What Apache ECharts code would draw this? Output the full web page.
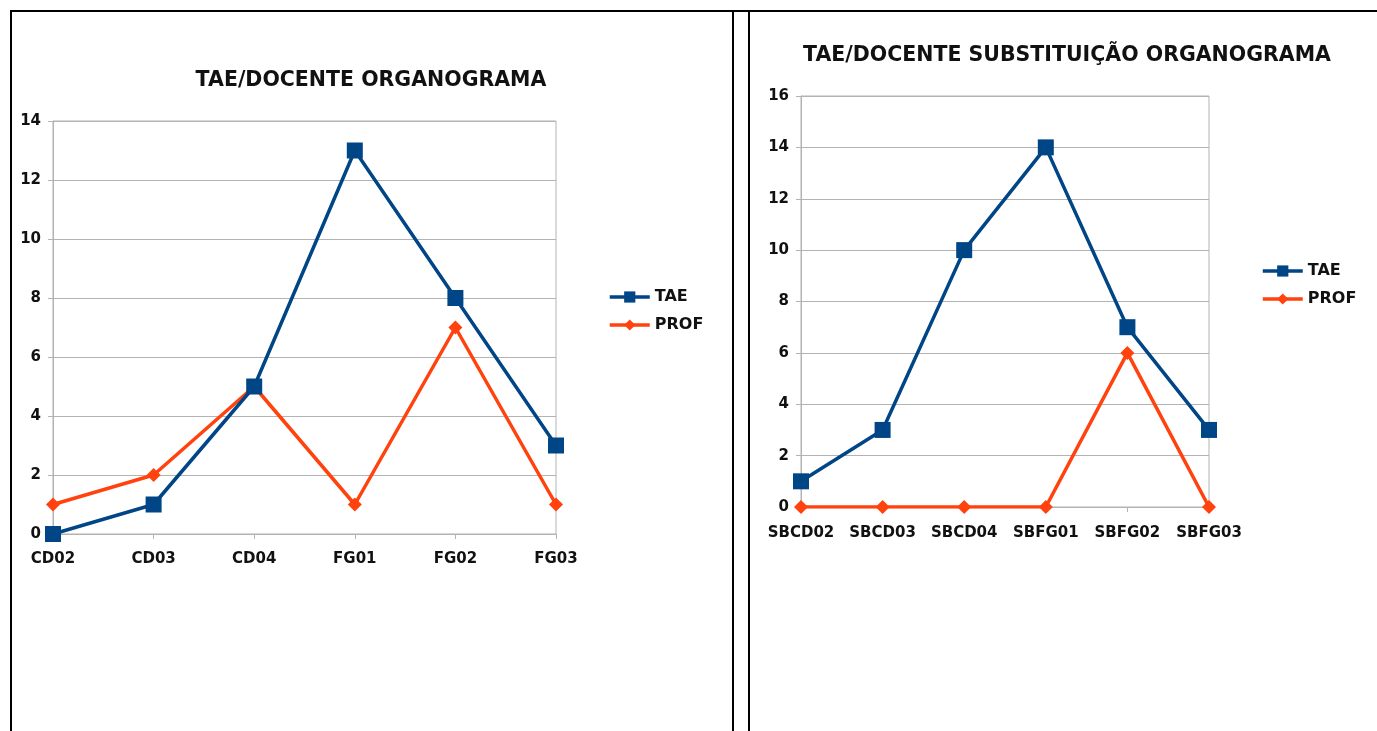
<!DOCTYPE html>
<html>
<head>
<meta charset="utf-8">
<script src="https://cdn.jsdelivr.net/npm/echarts@6/dist/echarts.min.js"></script>
<style>
  html, body { margin: 0; padding: 0; background: #fff; }
  #main { position: absolute; left: 0; top: 0; width: 1377px; height: 731px; }
  .bd { position: absolute; background: #000; }
</style>
</head>
<body>
<div id="main"></div>
<div class="bd" style="left:10px;top:10px;width:1367px;height:2px"></div>
<div class="bd" style="left:10px;top:10px;width:2px;height:721px"></div>
<div class="bd" style="left:732px;top:10px;width:2px;height:721px"></div>
<div class="bd" style="left:748px;top:10px;width:2px;height:721px"></div>
<script>
// left chart
var catsA = ["CD02", "CD03", "CD04", "FG01", "FG02", "FG03"];
var taeA = [0, 1, 5, 13, 8, 3];
var profA = [1, 2, 5, 1, 7, 1];
// right chart
var catsB = ["SBCD02", "SBCD03", "SBCD04", "SBFG01", "SBFG02", "SBFG03"];
var taeB = [1, 3, 10, 14, 7, 3];
var profB = [0, 0, 0, 0, 6, 0];

var blue = "#004586";
var orange = "#ff420e";
var gray = "#b3b3b3";
var labelFont = { color: "#111", fontWeight: "bold", fontFamily: "DejaVu Sans", fontSize: 15 };

function xAxis(idx, cats, margin) {
  return {
    type: "category",
    gridIndex: idx,
    data: cats,
    boundaryGap: false,
    axisLine: { lineStyle: { color: gray } },
    axisTick: { show: true, length: 5, lineStyle: { color: gray } },
    axisLabel: Object.assign({ margin: margin, interval: 0 }, labelFont),
    splitLine: { show: false },
  };
}
function yAxis(idx, max) {
  return {
    type: "value",
    gridIndex: idx,
    min: 0,
    max: max,
    interval: 2,
    axisLine: { show: true, lineStyle: { color: gray } },
    axisTick: { show: true, length: 5, lineStyle: { color: gray } },
    axisLabel: Object.assign({ margin: 12 }, labelFont),
    splitLine: { show: true, lineStyle: { color: gray, width: 1 } },
  };
}
function series(name, data, idx, isTae) {
  return {
    name: name,
    type: "line",
    xAxisIndex: idx,
    yAxisIndex: idx,
    data: data,
    symbol: isTae ? "rect" : "diamond",
    symbolSize: isTae ? 16 : 14,
    itemStyle: { color: isTae ? blue : orange },
    lineStyle: { color: isTae ? blue : orange, width: 3.5 },
    z: isTae ? 3 : 2,
  };
}
function legend(names, left, top) {
  return {
    data: names,
    orient: "vertical",
    left: left, top: top,
    itemWidth: 40, itemHeight: 14, itemGap: 12,
    lineStyle: { width: 3.5 },
    textStyle: Object.assign({}, labelFont, { fontSize: 16 }),
    selectedMode: false,
  };
}

var titleFont = { fontFamily: "DejaVu Sans", fontWeight: "bold", fontSize: 20.5, color: "#111" };

var myChart = echarts.init(document.getElementById("main"));
myChart.setOption({
  animation: false,
  title: [
    { text: "TAE/DOCENTE ORGANOGRAMA", left: 366, top: 65, textAlign: "center", textStyle: titleFont },
    { text: "TAE/DOCENTE SUBSTITUIÇÃO ORGANOGRAMA", left: 1062, top: 40, textAlign: "center", textStyle: titleFont },
  ],
  legend: [legend(["TAE", "PROF"], 603, 284), legend(["TAE ", "PROF "], 1256, 258)],
  grid: [
    { left: 53, top: 121, width: 503, height: 413, show: true, borderColor: gray, borderWidth: 1 },
    { left: 801, top: 96, width: 408, height: 411, show: true, borderColor: gray, borderWidth: 1 },
  ],
  xAxis: [xAxis(0, catsA, 18), xAxis(1, catsB, 19)],
  yAxis: [yAxis(0, 14), yAxis(1, 16)],
  series: [
    series("TAE", taeA, 0, true),
    series("PROF", profA, 0, false),
    series("TAE ", taeB, 1, true),
    series("PROF ", profB, 1, false),
  ],
});
</script>
</body>
</html>
